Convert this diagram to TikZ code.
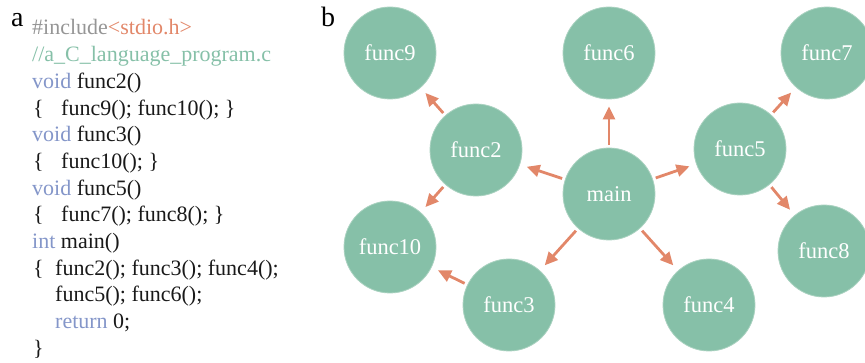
\documentclass[tikz,border=0pt]{standalone}
\usepackage{fontspec}
\setmainfont{Liberation Serif}
\usetikzlibrary{arrows.meta}
\definecolor{nodegreen}{RGB}{134,192,168}
\definecolor{nodeedge}{RGB}{170,210,192}
\definecolor{arroworange}{RGB}{226,135,105}
\definecolor{kwblue}{RGB}{132,150,201}
\definecolor{incgray}{RGB}{150,150,150}
\definecolor{codeblack}{RGB}{25,25,25}
\tikzset{
  fnode/.style={circle, fill=nodegreen, draw=nodeedge, line width=0.8pt, minimum size=92pt, inner sep=0pt,
    text=white, font=\fontsize{22.5}{25}\selectfont},
  callarrow/.style={draw=arroworange, line width=2.8pt, -{Triangle[length=13pt,width=12pt]},
    shorten <=3pt, shorten >=7pt},
  codeline/.style={anchor=base west, inner sep=0pt, text=codeblack, font=\fontsize{22}{26}\selectfont},
  panellabel/.style={anchor=base west, inner sep=0pt, font=\fontsize{28}{32}\selectfont}
}
\begin{document}
\begin{tikzpicture}[x=1pt,y=-1pt]
\useasboundingbox (0,0) rectangle (865,363);
% panel labels
\node[panellabel] (la) at (11,27) {a};
\node[panellabel] (lb) at (321,27) {b};
% code
\node[codeline] (c1) at (32,35) {{\color{incgray}\#include}{\color{arroworange}<stdio.h>}};
\node[codeline, text=nodegreen] (c2) at (32,61.7) {//a\_C\_language\_program.c};
\node[codeline] (c3) at (32,88.4) {{\color{kwblue}void} func2()};
\node[codeline] (c4b) at (33,115.1) {\{};
\node[codeline] (c4) at (61,115.1) {func9(); func10(); \}};
\node[codeline] (c5) at (32,141.8) {{\color{kwblue}void} func3()};
\node[codeline] (c6b) at (33,168.5) {\{};
\node[codeline] (c6) at (61,168.5) {func10(); \}};
\node[codeline] (c7) at (32,195.2) {{\color{kwblue}void} func5()};
\node[codeline] (c8b) at (33,221.9) {\{};
\node[codeline] (c8) at (61,221.9) {func7(); func8(); \}};
\node[codeline] (c9) at (32,248.6) {{\color{kwblue}int} main()};
\node[codeline] (c10b) at (33,275.3) {\{};
\node[codeline] (c10) at (55,275.3) {func2(); func3(); func4();};
\node[codeline] (c11) at (55,302) {func5(); func6();};
\node[codeline] (c12) at (55,328.7) {{\color{kwblue}return} 0;};
\node[codeline] (c13) at (33,355.4) {\}};
% graph
\node[fnode] (func9) at (390,53) {func9};
\node[fnode] (func6) at (609,53) {func6};
\node[fnode] (func7) at (827,53) {func7};
\node[fnode] (func2) at (476,150) {func2};
\node[fnode] (main) at (609,194) {main};
\node[fnode] (func5) at (740,149) {func5};
\node[fnode] (func10) at (390,247) {func10};
\node[fnode] (func8) at (824,251) {func8};
\node[fnode] (func3) at (509,305) {func3};
\node[fnode] (func4) at (709,305) {func4};
% calls
\draw[callarrow] (main) -- (func2);
\draw[callarrow] (main) -- (func3);
\draw[callarrow] (main) -- (func4);
\draw[callarrow] (main) -- (func5);
\draw[callarrow] (main) -- (func6);
\draw[callarrow] (func2) -- (func9);
\draw[callarrow] (func2) -- (func10);
\draw[callarrow] (func3) -- (func10);
\draw[callarrow] (func5) -- (func7);
\draw[callarrow] (func5) -- (func8);
\end{tikzpicture}
\end{document}
